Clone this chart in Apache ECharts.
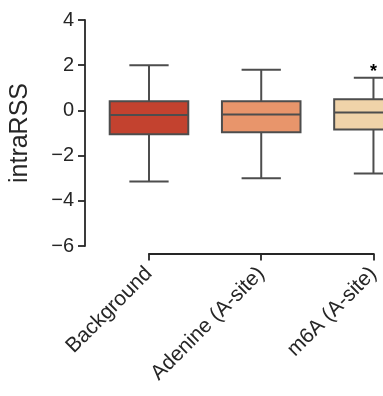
<!DOCTYPE html>
<html>
<head>
<meta charset="utf-8">
<script src="https://cdn.jsdelivr.net/npm/echarts@6/dist/echarts.min.js"></script>
<style>html,body{margin:0;padding:0;background:#fff;}#c{width:383px;height:396px;}</style>
</head>
<body>
<div id="c"></div>
<script>
const categories = ['Background', 'Adenine (A-site)', 'm6A (A-site)'];
const lowWhisker = [-3.15, -3.0, -2.79];
const q1 = [-1.05, -0.97, -0.84];
const median = [-0.2, -0.18, -0.09];
const q3 = [0.4, 0.4, 0.49];
const highWhisker = [2.0, 1.8, 1.45];
const significance = ['', '', '*'];
const boxColors = ['#c3422f', '#e8956b', '#f0d3a9'];
const yMin = -6, yMax = 4, yInterval = 2;

const FONT = 'Liberation Sans, Arial, sans-serif';
const EDGE = '#4d4d4d';
const AXIS = '#262626';

const data = categories.map((c, i) => [i, lowWhisker[i], q1[i], median[i], q3[i], highWhisker[i]]);

const chart = echarts.init(document.getElementById('c'), null, {renderer: 'canvas'});
chart.setOption({
  animation: false,
  backgroundColor: '#fff',
  grid: {left: 147, right: 5, top: 20, bottom: 150, containLabel: false},
  xAxis: {
    type: 'category',
    data: categories,
    boundaryGap: false,
    offset: 7.5,
    axisLine: {onZero: false, lineStyle: {color: AXIS, width: 1.8}},
    axisTick: {length: 7, lineStyle: {color: AXIS, width: 1.8}},
    axisLabel: {rotate: 45, fontSize: 21, color: '#262626', fontFamily: FONT, margin: 17},
    splitLine: {show: false}
  },
  yAxis: {
    type: 'value',
    min: yMin, max: yMax, interval: yInterval,
    offset: 64,
    name: 'intraRSS',
    nameLocation: 'middle',
    nameRotate: 90,
    nameGap: 52,
    nameTextStyle: {fontSize: 25, color: '#262626', fontFamily: FONT},
    axisLine: {show: true, onZero: false, lineStyle: {color: AXIS, width: 1.8}},
    axisTick: {show: true, length: 7, lineStyle: {color: AXIS, width: 1.8}},
    axisLabel: {fontSize: 20, color: '#262626', fontFamily: FONT, margin: 11,
      formatter: v => (v < 0 ? '\u2212' + Math.abs(v) : String(v))},
    splitLine: {show: false}
  },
  series: [{
    type: 'custom',
    clip: false,
    encode: {x: 0, y: [1, 2, 3, 4, 5]},
    data: data,
    renderItem: function (params, api) {
      const i = api.value(0);
      const band = api.size([1, 0])[0];
      const bw = band * 0.7;
      const cw = bw / 2;
      const pLow = api.coord([i, api.value(1)]);
      const pQ1 = api.coord([i, api.value(2)]);
      const pMed = api.coord([i, api.value(3)]);
      const pQ3 = api.coord([i, api.value(4)]);
      const pHigh = api.coord([i, api.value(5)]);
      const cx = pMed[0];
      const ls = {stroke: EDGE, lineWidth: 2};
      const children = [
        {type: 'line', shape: {x1: cx, y1: pQ1[1], x2: cx, y2: pLow[1]}, style: ls},
        {type: 'line', shape: {x1: cx, y1: pQ3[1], x2: cx, y2: pHigh[1]}, style: ls},
        {type: 'line', shape: {x1: cx - cw / 2, y1: pLow[1], x2: cx + cw / 2, y2: pLow[1]}, style: ls},
        {type: 'line', shape: {x1: cx - cw / 2, y1: pHigh[1], x2: cx + cw / 2, y2: pHigh[1]}, style: ls},
        {type: 'rect', shape: {x: cx - bw / 2, y: pQ3[1], width: bw, height: pQ1[1] - pQ3[1]},
          style: {fill: boxColors[params.dataIndex], stroke: EDGE, lineWidth: 2}},
        {type: 'line', shape: {x1: cx - bw / 2, y1: pMed[1], x2: cx + bw / 2, y2: pMed[1]}, style: ls}
      ];
      const sig = significance[params.dataIndex];
      if (sig) {
        children.push({type: 'text', style: {text: sig, x: cx, y: pHigh[1] + 3, align: 'center', verticalAlign: 'bottom',
          fontSize: 18, fontWeight: 'bold', fill: '#000', fontFamily: FONT}});
      }
      return {type: 'group', children: children};
    }
  }]
});
</script>
</body>
</html>
